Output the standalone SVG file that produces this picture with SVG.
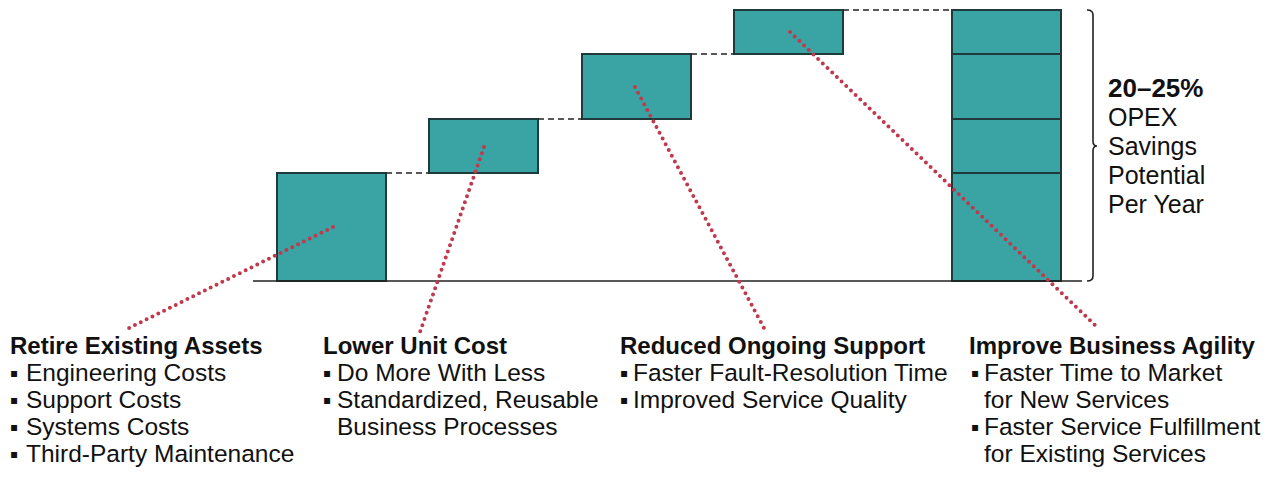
<svg xmlns="http://www.w3.org/2000/svg" width="1276" height="477" viewBox="0 0 1276 477">
<style>
.bar{fill:#3aa3a3;stroke:#1f3a3a;stroke-width:2}
.div{stroke:#1f3a3a;stroke-width:2;fill:none}
.dash{stroke:#222;stroke-width:1.6;stroke-dasharray:6 4;fill:none}
.dot{stroke:#bf3a4c;stroke-width:4;stroke-linecap:round;stroke-dasharray:0 6.5;fill:none}
.axis{stroke:#222;stroke-width:1.6;fill:none}
text{font-family:"Liberation Sans",Arial,sans-serif;font-size:24.5px;fill:#111}
.h{font-weight:bold;font-size:24px}
.b{font-family:"DejaVu Sans","Liberation Sans",sans-serif;font-size:12px}
.s{font-size:25px}
.sh{font-size:26px;font-weight:bold}
</style>
<rect width="1276" height="477" fill="#fff"/>
<g id="bars">
<g id="bar1"><rect class="bar" x="277" y="173" width="109" height="108"/></g>
<g id="bar2"><rect class="bar" x="429" y="119" width="109" height="54"/></g>
<g id="bar3"><rect class="bar" x="582" y="54" width="109" height="65"/></g>
<g id="bar4"><rect class="bar" x="734" y="10" width="109" height="44"/></g>
<g id="total">
<rect class="bar" x="952" y="10" width="109" height="271"/>
<path class="div" d="M952 54H1061M952 119H1061M952 173H1061"/>
</g>
</g>
<g id="connectors">
<path class="axis" d="M253 281H1082"/>
<path class="dash" d="M386 173H429M538 119H582M691 54H734M843 10H952"/>
<path class="axis" d="M1087 10Q1093 10 1093 15V141Q1093 146 1097 146Q1093 146 1093 151V276Q1093 281 1087 281"/>
<path class="dot" d="M333 227L125 330"/>
<path class="dot" d="M484 147L420 332"/>
<path class="dot" d="M635 87L764 328"/>
<path class="dot" d="M790 32L1097 327"/>
</g>
<g id="savings">
<text class="sh" x="1108" y="97">20–25%</text>
<text class="s" x="1108" y="126">OPEX</text>
<text class="s" x="1108" y="155">Savings</text>
<text class="s" x="1108" y="184">Potential</text>
<text class="s" x="1108" y="213">Per Year</text>
</g>
<g id="label1">
<text class="h" x="10" y="354">Retire Existing Assets</text>
<text class="b" x="10" y="377">▪</text><text x="26" y="381">Engineering Costs</text>
<text class="b" x="10" y="404">▪</text><text x="26" y="408">Support Costs</text>
<text class="b" x="10" y="431">▪</text><text x="26" y="435">Systems Costs</text>
<text class="b" x="10" y="458">▪</text><text x="26" y="462">Third-Party Maintenance</text>
</g>
<g id="label2">
<text class="h" x="323" y="354">Lower Unit Cost</text>
<text class="b" x="323" y="377">▪</text><text x="337" y="381">Do More With Less</text>
<text class="b" x="323" y="404">▪</text><text x="337" y="408">Standardized, Reusable</text>
<text x="337" y="435">Business Processes</text>
</g>
<g id="label3">
<text class="h" x="620" y="354">Reduced Ongoing Support</text>
<text class="b" x="620" y="377">▪</text><text x="633" y="381">Faster Fault-Resolution Time</text>
<text class="b" x="620" y="404">▪</text><text x="633" y="408">Improved Service Quality</text>
</g>
<g id="label4">
<text class="h" x="969" y="354">Improve Business Agility</text>
<text class="b" x="971" y="377">▪</text><text x="984" y="381">Faster Time to Market</text>
<text x="984" y="408">for New Services</text>
<text class="b" x="971" y="431">▪</text><text x="984" y="435">Faster Service Fulfillment</text>
<text x="984" y="462">for Existing Services</text>
</g>
</svg>
